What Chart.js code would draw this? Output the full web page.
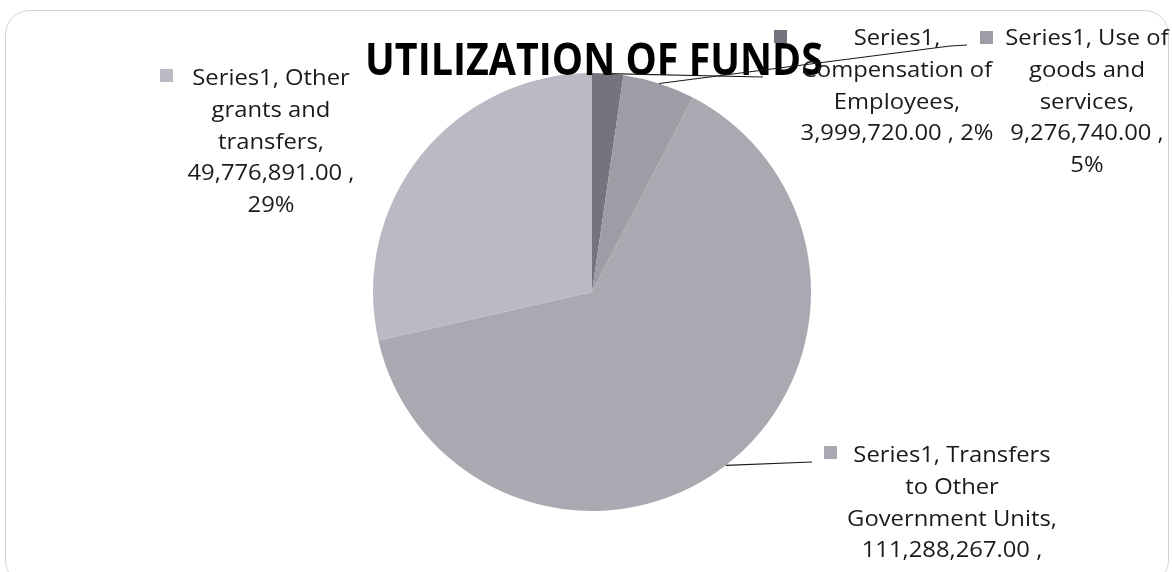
<!DOCTYPE html>
<html>
<head>
<meta charset="utf-8">
<script src="https://cdn.jsdelivr.net/npm/chart.js@4.4.1/dist/chart.umd.min.js"></script>
<style>
  html, body { margin: 0; padding: 0; background: #ffffff; }
  #wrap { width: 1172px; height: 572px; position: relative; }
</style>
</head>
<body>
<div id="wrap"><canvas id="c" width="1172" height="572"></canvas></div>
<script>
// ---- data ----
const chartTitle = 'UTILIZATION OF FUNDS';
const seriesName = 'Series1';
const categories = ['Compensation of Employees', 'Use of goods and services', 'Transfers to Other Government Units', 'Other grants and transfers'];
const values = [3999720, 9276740, 111288267, 49776891];
const sliceColors = ['#74747e', '#9d9da6', '#a9a9b1', '#babac4'];

// ---- layout (positions only) ----
const labelLayout = [
  { cx: 897, y0: 45, maxW: 205, mx: 774, my: 30, lead: [[763, 77]] },
  { cx: 1087, y0: 45, maxW: 172, mx: 980, my: 31, lead: [[950, 46], [967, 45]] },
  { cx: 952, y0: 462, maxW: 216, mx: 824, my: 446, lead: [[812, 462]] },
  { cx: 271, y0: 85, maxW: 176, mx: 160, my: 69, lead: null }
];
const lineH = 31.8;
const labelFontFamily = '"Open Sans", "DejaVu Sans", sans-serif';
const titleFontFamily = '"Open Sans", "DejaVu Sans", sans-serif';

const total = values.reduce((a, b) => a + b, 0);
function fmtNum(v) {
  return v.toLocaleString('en-US', { minimumFractionDigits: 2, maximumFractionDigits: 2 });
}
function labelText(i) {
  const pct = Math.round(values[i] / total * 100);
  return seriesName + ', ' + categories[i] + ', ' + fmtNum(values[i]) + ' , ' + pct + '%';
}
function wrap(ctx, text, maxW, sx) {
  const words = text.split(' ');
  const lines = [];
  let cur = '';
  for (const w of words) {
    const test = cur ? cur + ' ' + w : w;
    if (cur && ctx.measureText(test).width * sx > maxW) {
      lines.push(cur);
      cur = w;
    } else {
      cur = test;
    }
  }
  if (cur) lines.push(cur);
  return lines;
}

const overlay = {
  id: 'overlay',
  afterDraw(chart) {
    const ctx = chart.ctx;
    ctx.save();
    // frame
    ctx.strokeStyle = '#d2d2da';
    ctx.lineWidth = 1;
    ctx.beginPath();
    ctx.roundRect(5.5, 10.5, 1163, 574, 24);
    ctx.stroke();

    // title: width fitted, slightly taller to match the reference cap height
    let tSize = 40;
    ctx.font = 'bold ' + tSize + 'px ' + titleFontFamily;
    const tw = ctx.measureText(chartTitle).width;
    tSize = tSize * 458 / tw;
    ctx.font = 'bold ' + tSize + 'px ' + titleFontFamily;
    ctx.fillStyle = '#000000';
    ctx.textAlign = 'center';
    ctx.textBaseline = 'alphabetic';
    ctx.save();
    ctx.translate(594, 75);
    ctx.scale(1, 1.12);
    ctx.fillText(chartTitle, 0, 0);
    ctx.restore();

    // label font: height set by size, width matched with horizontal scale
    const fSize = 21.5;
    ctx.font = fSize + 'px ' + labelFontFamily;
    const refW = ctx.measureText(fmtNum(values[3]) + ' ,').width;
    const sx = 167 / refW;

    const meta = chart.getDatasetMeta(0);
    meta.data.forEach((arc, i) => {
      const L = labelLayout[i];
      // marker
      ctx.fillStyle = sliceColors[i];
      ctx.fillRect(L.mx, L.my, 13, 13);
      // text
      ctx.fillStyle = '#1a1a1a';
      ctx.textAlign = 'center';
      ctx.textBaseline = 'alphabetic';
      const lines = wrap(ctx, labelText(i), L.maxW, sx);
      lines.forEach((ln, k) => {
        ctx.save();
        ctx.translate(L.cx, L.y0 + k * lineH);
        ctx.scale(sx, 1);
        ctx.fillText(ln, 0, 0);
        ctx.restore();
      });
      // leader
      if (L.lead) {
        const p = arc.getProps(['x', 'y', 'startAngle', 'endAngle', 'outerRadius'], true);
        const mid = (p.startAngle + p.endAngle) / 2;
        const px = p.x + Math.cos(mid) * p.outerRadius;
        const py = p.y + Math.sin(mid) * p.outerRadius;
        ctx.strokeStyle = '#1a1a1a';
        ctx.lineWidth = 1.2;
        ctx.beginPath();
        ctx.moveTo(px, py);
        L.lead.forEach(pt => ctx.lineTo(pt[0], pt[1]));
        ctx.stroke();
      }
    });
    ctx.restore();
  }
};

new Chart(document.getElementById('c'), {
  type: 'pie',
  data: {
    labels: categories,
    datasets: [{
      label: seriesName,
      data: values,
      backgroundColor: sliceColors,
      borderWidth: 0
    }]
  },
  options: {
    responsive: false,
    animation: false,
    layout: { padding: { top: 73, bottom: 61, left: 373, right: 361 } },
    plugins: {
      legend: { display: false },
      title: { display: false },
      tooltip: { enabled: false }
    }
  },
  plugins: [overlay]
});
</script>
</body>
</html>
